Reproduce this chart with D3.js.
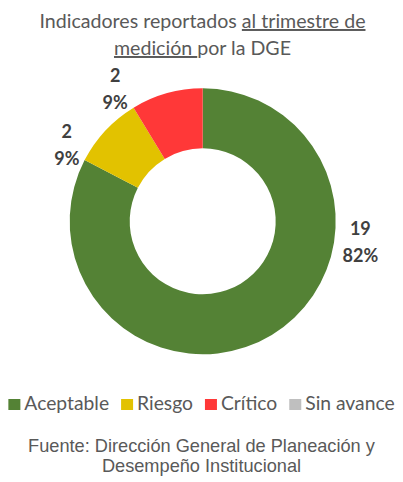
<!DOCTYPE html>
<html>
<head>
<meta charset="utf-8">
<script src="https://d3js.org/d3.v7.min.js"></script>
<style>
  body { margin: 0; background: #fff; }
</style>
</head>
<body>
<div id="vis-dona"></div>
<script>

	// Datos //
	// ----- //
	const categorias = ["Aceptable", "Riesgo", "Crítico", "Sin avance"];
	const valores = [19, 2, 2, 0];
	const porcentajes = ["82%", "9%", "9%", "0%"];
	const colores = ["#548235", "#E2C200", "#FF3838", "#BFBFBF"];

	// Title pieces: [text, underlined]
	const titulo = [
		[["Indicadores reportados ", false], ["al trimestre de", true]],
		[["medición ", true], ["por la DGE", false]]
	];
	const fuente = ["Fuente: Dirección General de Planeación y", "Desempeño Institucional"];

	// Label anchors (angle in degrees from 12 o'clock, radius) - labels were moved by hand in the original
	const etiquetasPos = [[97.5, 159], [299.4, 156], [326.6, 159]];

	// ----- //
	// Setup //
	// ----- //
	const width = 403, height = 482;
	const cx = 202.7, cy = 221.3;
	const rOuter = 133, rInner = 73;

	const svg = d3.select("#vis-dona")
		.append("svg")
			.attr("width", width)
			.attr("height", height);

	// Title
	const t = svg.append("text")
		.attr("text-anchor", "middle")
		.style("font-family", "Lato, 'Open Sans', sans-serif")
		.style("font-size", "19.6px")
		.style("fill", "#595959");
	titulo.forEach((linea, i) => {
		linea.forEach((pieza, j) => {
			const ts = t.append("tspan").text(pieza[0]);
			if (j === 0) ts.attr("x", width / 2 + 1).attr("y", 28 + i * 27);
			if (pieza[1]) ts.style("text-decoration", "underline");
		});
	});

	// Donut
	const pie = d3.pie().sort(null).value(d => d)(valores);
	const arc = d3.arc().innerRadius(rInner).outerRadius(rOuter);
	const g = svg.append("g").attr("transform", "translate(" + cx + "," + cy + ")");

	g.selectAll("path")
		.data(pie)
		.enter().append("path")
			.attr("d", arc)
			.style("fill", (d, i) => colores[i]);

	// Data labels
	const etiquetas = g.selectAll("text.lbl")
		.data(pie.filter(d => d.value > 0))
		.enter().append("text")
			.attr("class", "lbl")
			.attr("text-anchor", "middle")
			.attr("transform", (d, i) => {
				const a = etiquetasPos[i][0] * Math.PI / 180;
				const c = d3.arc().innerRadius(etiquetasPos[i][1]).outerRadius(etiquetasPos[i][1])
					.centroid({startAngle: a, endAngle: a});
				return "translate(" + c[0] + "," + c[1] + ")";
			})
			.style("font-family", "Lato, 'Open Sans', sans-serif")
			.style("font-weight", "bold")
			.style("font-size", "18px")
			.style("fill", "#404040");
	etiquetas.append("tspan").attr("x", 0).attr("y", -7).text(d => d.value);
	etiquetas.append("tspan").attr("x", 0).attr("y", 20).text(d => porcentajes[d.index]);

	// Legend
	const leg = svg.append("g");
	const items = leg.selectAll("g")
		.data(categorias)
		.enter().append("g");
	items.append("rect")
		.attr("width", 12).attr("height", 11)
		.attr("y", -11)
		.style("fill", (d, i) => colores[i]);
	items.append("text")
		.attr("x", 16)
		.style("font-family", "Lato, 'Open Sans', sans-serif")
		.style("font-size", "19.3px")
		.style("fill", "#595959")
		.text(d => d);
	let xo = 0;
	items.each(function() {
		const w = d3.select(this).select("text").node().getComputedTextLength();
		d3.select(this).attr("transform", "translate(" + xo + ",0)");
		xo += 16 + w + 12;
	});
	xo -= 12;
	leg.attr("transform", "translate(" + ((width - xo) / 2) + ",410)");

	// Source
	svg.append("g").selectAll("text")
		.data(fuente)
		.enter().append("text")
			.attr("x", width / 2)
			.attr("y", (d, i) => 452 + i * 20)
			.attr("text-anchor", "middle")
			.style("font-family", "'Liberation Sans', Arial, sans-serif")
			.style("font-size", "18.2px")
			.style("fill", "#595959")
			.text(d => d);
</script>
</body>
</html>
